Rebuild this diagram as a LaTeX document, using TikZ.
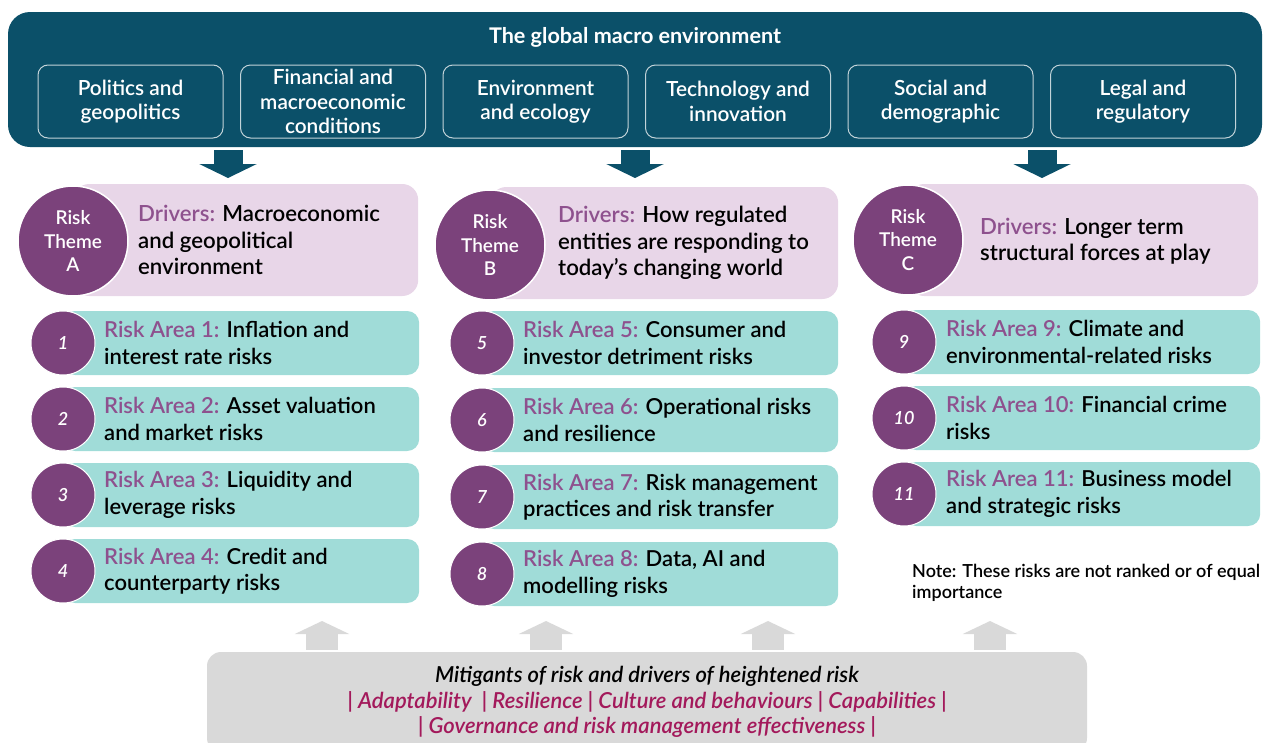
\documentclass[tikz,border=0pt]{standalone}
\usepackage{fontspec}
\setmainfont{Lato}[UprightFont={* Semibold}, ItalicFont={* Semibold Italic}, BoldFont={* Bold}]
\usetikzlibrary{arrows.meta}

\definecolor{macroblue}{HTML}{0B5069}
\definecolor{drvpink}{HTML}{E8D6E8}
\definecolor{areateal}{HTML}{A0DCD8}
\definecolor{themepurple}{HTML}{7B427B}
\definecolor{lblpurple}{HTML}{8E518E}
\definecolor{mitgray}{HTML}{D9D9D9}
\definecolor{mitred}{HTML}{A3195B}

\newcommand{\purp}[1]{\textcolor{lblpurple}{#1}}

\tikzstyle{banner} = [rectangle, fill=macroblue, rounded corners=22pt, minimum width=1254pt, minimum height=135pt]
\tikzstyle{envbox} = [rectangle, draw=white!75!macroblue, line width=1pt, rounded corners=10pt, minimum width=185pt, minimum height=73pt, text=white, align=center, font=\fontsize{20.8}{24.5}\selectfont]
\tikzstyle{theme} = [rectangle, fill=drvpink, rounded corners=16pt, minimum height=112pt, anchor=west]
\tikzstyle{themecirc} = [circle, fill=themepurple, draw=white, line width=1.5pt, minimum size=110pt, inner sep=0pt, text=white, align=center, font=\fontsize{19}{23.5}\selectfont]
\tikzstyle{drvtxt} = [anchor=west, align=left, inner sep=0pt, font=\fontsize{22.2}{26.5}\selectfont]
\tikzstyle{area} = [rectangle, fill=areateal, rounded corners=12pt, minimum width=356pt, minimum height=64pt]
\tikzstyle{areacirc} = [circle, fill=themepurple, draw=white, line width=1pt, minimum size=64pt, inner sep=0pt, text=white, font=\fontsize{18}{18}\selectfont\itshape]
\tikzstyle{areatxt} = [anchor=west, align=left, inner sep=0pt, font=\fontsize{22}{26.5}\selectfont]
\tikzstyle{dnarrow} = [macroblue, line width=29pt, -{Triangle[width=57pt, length=14pt]}]
\tikzstyle{uparrow} = [mitgray, line width=32pt, -{Triangle[width=54pt, length=13pt]}]

\begin{document}
\begin{tikzpicture}[x=1pt, y=-1pt, node distance=76pt]
        \useasboundingbox (0,0) rectangle (1267,742);

        % global macro environment
        \node[banner] (macro) at (635,79.5) {};
        \node[text=white, font=\bfseries\fontsize{21.6}{24}\selectfont] (title) at (635,37) {The global macro environment};
        \begin{scope}[node distance=202.5pt]
        \node[envbox] (env1) at (130.5,101.5) {Politics and\\geopolitics};
        \node[envbox, right of=env1] (env2) {Financial and\\macroeconomic\\conditions};
        \node[envbox, right of=env2] (env3) {Environment\\and ecology};
        \node[envbox, right of=env3] (env4) {Technology and\\innovation};
        \node[envbox, right of=env4] (env5) {Social and\\demographic};
        \node[envbox, right of=env5] (env6) {Legal and\\regulatory};
        \end{scope}

        % risk themes
        \node[theme, minimum width=345pt] (themeA) at (73,240) {};
        \node[theme, minimum width=348pt] (themeB) at (490,243) {};
        \node[theme, minimum width=350pt] (themeC) at (908,240) {};
        \node[themecirc] (circA) at (73,241) {Risk\\Theme\\A};
        \node[themecirc] (circB) at (490,245) {Risk\\Theme\\B};
        \node[themecirc] (circC) at (908,240) {Risk\\Theme\\C};
        \node[drvtxt] (drvA) at (138,240) {\purp{Drivers:} Macroeconomic\\and geopolitical\\environment};
        \node[drvtxt] (drvB) at (558,243) {\purp{Drivers:} How regulated\\entities are responding to\\today’s changing world};
        \node[drvtxt] (drvC) at (980,241) {\purp{Drivers:} Longer term\\structural forces at play};

        \coordinate (dA) at (228,178);
        \coordinate (dB) at (635,178);
        \coordinate (dC) at (1042,178);
        \draw[dnarrow] ([yshift=-3pt]macro.south -| dA) -- (dA);
        \draw[dnarrow] ([yshift=-3pt]macro.south -| dB) -- (dB);
        \draw[dnarrow] ([yshift=-3pt]macro.south -| dC) -- (dC);

        % risk areas, theme A
        \node[area, anchor=west] (ra1) at (63,343) {};
        \node[area, below of=ra1] (ra2) {};
        \node[area, below of=ra2] (ra3) {};
        \node[area, below of=ra3] (ra4) {};
        \node[areacirc] (num1) at (63,343) {1};
        \node[areacirc, below of=num1] (num2) {2};
        \node[areacirc, below of=num2] (num3) {3};
        \node[areacirc, below of=num3] (num4) {4};
        \node[areatxt] (txt1) at ([xshift=41pt]ra1.west) {\purp{Risk Area 1:} Inflation and\\interest rate risks};
        \node[areatxt] (txt2) at ([xshift=41pt]ra2.west) {\purp{Risk Area 2:} Asset valuation\\and market risks};
        \node[areatxt] (txt3) at ([xshift=41pt]ra3.west) {\purp{Risk Area 3:} Liquidity and\\leverage risks};
        \node[areatxt] (txt4) at ([xshift=41pt]ra4.west) {\purp{Risk Area 4:} Credit and\\counterparty risks};

        % risk areas, theme B
        \begin{scope}[node distance=77pt]
        \node[area, anchor=west] (ra5) at (482,343) {};
        \node[area, below of=ra5] (ra6) {};
        \node[area, below of=ra6] (ra7) {};
        \node[area, below of=ra7] (ra8) {};
        \node[areacirc] (num5) at (482,343) {5};
        \node[areacirc, below of=num5] (num6) {6};
        \node[areacirc, below of=num6] (num7) {7};
        \node[areacirc, below of=num7] (num8) {8};
        \end{scope}
        \node[areatxt] (txt5) at ([xshift=41pt]ra5.west) {\purp{Risk Area 5:} Consumer and\\investor detriment risks};
        \node[areatxt] (txt6) at ([xshift=41pt]ra6.west) {\purp{Risk Area 6:} Operational risks\\and resilience};
        \node[areatxt] (txt7) at ([xshift=41pt]ra7.west) {\purp{Risk Area 7:} Risk management\\practices and risk transfer};
        \node[areatxt] (txt8) at ([xshift=41pt]ra8.west) {\purp{Risk Area 8:} Data, AI and\\modelling risks};

        % risk areas, theme C
        \node[area, anchor=west] (ra9) at (904,342) {};
        \node[area, below of=ra9] (ra10) {};
        \node[area, below of=ra10] (ra11) {};
        \node[areacirc] (num9) at (904,342) {9};
        \node[areacirc, below of=num9] (num10) {10};
        \node[areacirc, below of=num10] (num11) {11};
        \node[areatxt] (txt9) at ([xshift=42pt]ra9.west) {\purp{Risk Area 9:} Climate and\\environmental-related risks};
        \node[areatxt] (txt10) at ([xshift=42pt]ra10.west) {\purp{Risk Area 10:} Financial crime\\risks};
        \node[areatxt] (txt11) at ([xshift=42pt]ra11.west) {\purp{Risk Area 11:} Business model\\and strategic risks};

        \node[anchor=west, align=left, inner sep=0pt, font=\fontsize{18}{21}\selectfont] (note) at (912,583) {Note: These risks are not ranked or of equal\\importance};

        % mitigants
        \node[rectangle, fill=mitgray, rounded corners=14pt, minimum width=880pt, minimum height=100pt, align=center, font=\itshape\fontsize{22}{25.5}\selectfont] (mitig) at (647,702) {Mitigants of risk and drivers of heightened risk\\\color{mitred}| Adaptability~ | Resilience | Culture and behaviours | Capabilities |\\\color{mitred}| Governance and risk management effectiveness |};
        \coordinate (uA) at (322,621);
        \coordinate (uB) at (546,621);
        \coordinate (uC) at (768,621);
        \coordinate (uD) at (990,621);
        \draw[uparrow] ([yshift=2pt]mitig.north -| uA) -- (uA);
        \draw[uparrow] ([yshift=2pt]mitig.north -| uB) -- (uB);
        \draw[uparrow] ([yshift=2pt]mitig.north -| uC) -- (uC);
        \draw[uparrow] ([yshift=2pt]mitig.north -| uD) -- (uD);
    \end{tikzpicture}
\end{document}
